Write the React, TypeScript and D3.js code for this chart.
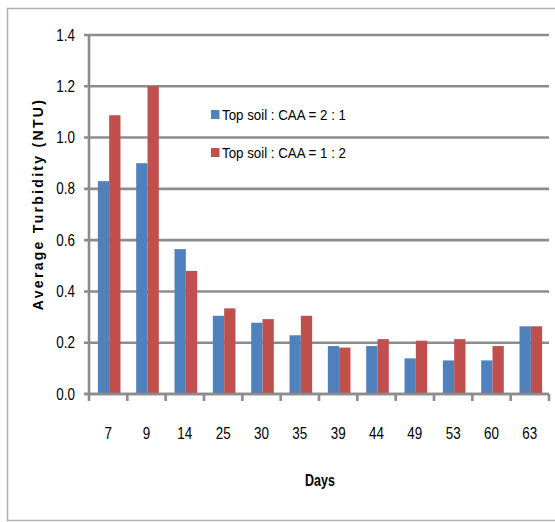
import React from "react";
import * as d3 from "d3";

const days = ["7", "9", "14", "25", "30", "35", "39", "44", "49", "53", "60", "63"];
const series1 = [0.83, 0.9, 0.565, 0.305, 0.278, 0.229, 0.187, 0.187, 0.139, 0.131, 0.131, 0.264];
const series2 = [1.087, 1.2, 0.48, 0.334, 0.292, 0.305, 0.181, 0.214, 0.208, 0.214, 0.187, 0.264];
const seriesNames = ["Top soil : CAA = 2 : 1", "Top soil : CAA = 1 : 2"];
const colors = ["#4f81bd", "#c0504d"];
const yTicks = [0, 0.2, 0.4, 0.6, 0.8, 1.0, 1.2, 1.4];

const W = 555;
const H = 522;
const left = 89;
const right = 549;
const top = 35;
const bottom = 394;
const font = "'Liberation Sans', Arial, sans-serif";

type CTProps = {
  x: number;
  y: number;
  anchor?: "start" | "middle" | "end";
  size: number;
  bold?: boolean;
  sx?: number;
  children: React.ReactNode;
};

function CText({ x, y, anchor = "start", size, bold, sx = 0.84, children }: CTProps) {
  return (
    <text
      transform={`translate(${x},${y}) scale(${sx},1)`}
      dy="0.35em"
      textAnchor={anchor}
      fontFamily={font}
      fontSize={size}
      fontWeight={bold ? "bold" : "normal"}
      fill="#000"
    >
      {children}
    </text>
  );
}

export default function App() {
  const x = d3.scaleBand().domain(days).range([left, right]).paddingInner(0.41).paddingOuter(0.205);
  const xTickScale = d3.scaleBand().domain(days).range([left, right]);
  const y = d3.scaleLinear().domain([0, 1.4]).range([bottom, top]);
  const sub = d3.scaleBand().domain(["0", "1"]).range([0, x.bandwidth()]);
  const all = [series1, series2];
  const grid = "#8c8c8c";

  return (
    <svg width={W} height={H} style={{ position: "absolute", left: 0, top: 0, background: "#fff" }}>
      <rect x={7.5} y={8.5} width={W} height={512} fill="#fff" stroke="#b0b0b0" strokeWidth={1.5} />
      {yTicks.map((t) => (
        <g key={t}>
          <line x1={left - 5} x2={right} y1={y(t)} y2={y(t)} stroke={grid} strokeWidth={2.6} />
          <CText x={75} y={y(t)} anchor="end" size={16}>
            {t.toFixed(1)}
          </CText>
        </g>
      ))}
      <line x1={left} x2={left} y1={top} y2={bottom} stroke={grid} strokeWidth={2.6} />
      {days.map((d) => (
        <line key={"t" + d} x1={xTickScale(d)!} x2={xTickScale(d)!} y1={bottom} y2={bottom + 7} stroke={grid} strokeWidth={2.6} />
      ))}
      <line x1={right} x2={right} y1={bottom} y2={bottom + 7} stroke={grid} strokeWidth={2.6} />
      {all.map((s, si) =>
        s.map((v, i) => (
          <rect
            key={si + "-" + i}
            x={x(days[i])! + 1 + sub(String(si))!}
            y={y(v)}
            width={sub.bandwidth()}
            height={bottom - y(v)}
            fill={colors[si]}
          />
        ))
      )}
      <line x1={left - 5} x2={right} y1={bottom} y2={bottom} stroke={grid} strokeWidth={2.6} />
      {days.map((d) => (
        <CText key={"l" + d} x={xTickScale(d)! + xTickScale.bandwidth() / 2} y={433} anchor="middle" size={16}>
          {d}
        </CText>
      ))}
      <CText x={320} y={480} anchor="middle" size={16} bold sx={0.78}>
        Days
      </CText>
      <text
        transform="translate(38,204) rotate(-90)"
        dy="0.35em"
        textAnchor="middle"
        fontFamily={font}
        fontWeight="bold"
        fontSize={14}
        letterSpacing={2.3}
        fill="#000"
      >
        Average Turbidity  (NTU)
      </text>
      {seriesNames.map((n, i) => (
        <g key={n} transform={`translate(211, ${110 + i * 38})`}>
          <rect x={0} y={0} width={8.5} height={9} fill={colors[i]} />
          <CText x={11} y={4.5} size={15.5} sx={0.86}>
            {n}
          </CText>
        </g>
      ))}
    </svg>
  );
}
